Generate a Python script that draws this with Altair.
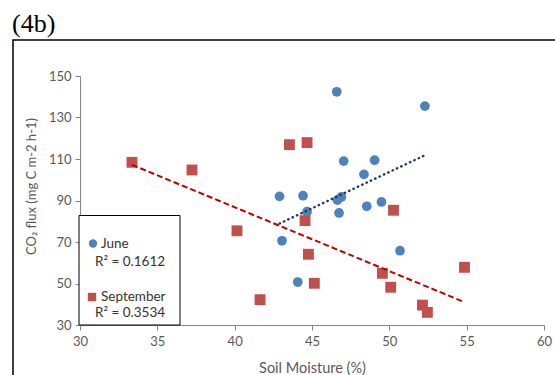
import altair as alt
import pandas as pd

# June (blue circles)
june_moisture = [46.6, 52.3, 47.05, 49.05, 48.36, 42.9, 44.42, 46.64, 46.9, 44.68, 46.75, 48.54, 49.49, 43.06, 50.69, 44.08]
june_flux = [142.4, 135.5, 109.0, 109.4, 102.6, 92.0, 92.3, 90.2, 91.7, 84.6, 84.0, 87.2, 89.3, 70.6, 65.8, 50.7]
# September (red squares)
sep_moisture = [33.36, 37.24, 40.15, 41.64, 43.54, 44.68, 44.55, 44.77, 45.15, 49.55, 50.09, 50.27, 52.14, 52.46, 54.86]
sep_flux = [108.4, 104.7, 75.4, 42.2, 116.9, 117.9, 80.3, 64.1, 50.1, 54.9, 48.2, 85.3, 39.6, 36.1, 57.8]

# linear trend lines (end points)
june_trend_x = [42.9, 52.3]
june_trend_y = [78.9, 111.8]
sep_trend_x = [33.36, 54.86]
sep_trend_y = [107.2, 41.0]

x_ticks = [30, 35, 40, 45, 50, 55, 60]
y_ticks = [30, 50, 70, 90, 110, 130, 150]

june = pd.DataFrame({"moisture": june_moisture, "flux": june_flux})
sep = pd.DataFrame({"moisture": sep_moisture, "flux": sep_flux})
june_tr = pd.DataFrame({"moisture": june_trend_x, "flux": june_trend_y})
sep_tr = pd.DataFrame({"moisture": sep_trend_x, "flux": sep_trend_y})

FONT = "Lato"
BLUE = "#4F81BD"
RED = "#C0504D"

xenc = alt.X("moisture:Q", scale=alt.Scale(domain=[30, 60], nice=False),
             axis=alt.Axis(values=x_ticks, title="Soil Moisture (%)", titleY=43,
                           titleBaseline="middle", labelPadding=5, tickSize=5,
                           labelFlush=False, titleFontSize=14.5))
yenc = alt.Y("flux:Q", scale=alt.Scale(domain=[30, 150], nice=False),
             axis=alt.Axis(values=y_ticks, title="CO₂ flux (mg C m-2 h-1)",
                           titleX=-49, titleY=110, titleAngle=-90, titleAlign="center",
                           titleBaseline="middle", labelPadding=4, tickSize=5,
                           labelFlush=False, titleFontSize=13))

one = pd.DataFrame({"a": [0]})

frame = alt.Chart(one).mark_rect(filled=False, stroke="black", strokeWidth=1.5).encode(
    x=alt.value(-67), x2=alt.value(700), y=alt.value(-36), y2=alt.value(500))

title = alt.Chart(one).mark_text(text="(4b)", font="Liberation Serif", fontSize=26,
                                 align="left", baseline="alphabetic", color="black").encode(
    x=alt.value(-68), y=alt.value(-44.5))

june_pts = alt.Chart(june).mark_point(shape="circle", filled=True, size=95, opacity=1,
                                      color=BLUE).encode(x=xenc, y=yenc)
sep_pts = alt.Chart(sep).mark_point(shape="square", filled=True, size=118, opacity=1,
                                    color=RED).encode(x=xenc, y=yenc)

june_line = alt.Chart(june_tr).mark_line(
    color="#1F3864", strokeWidth=2.4, strokeDash=[0.5, 4.3], strokeCap="round").encode(x=xenc, y=yenc)
sep_line = alt.Chart(sep_tr).mark_line(
    color="#C00000", strokeWidth=2, strokeDash=[6, 3]).encode(x=xenc, y=yenc)

legend_box = alt.Chart(one).mark_rect(fill="white", stroke="black", strokeWidth=1).encode(
    x=alt.value(-1), x2=alt.value(100), y=alt.value(139.5), y2=alt.value(249))

leg_june_sym = alt.Chart(one).mark_point(shape="circle", filled=True, size=70, opacity=1,
                                         color=BLUE).encode(x=alt.value(13), y=alt.value(167.5))
leg_sep_sym = alt.Chart(one).mark_point(shape="square", filled=True, size=70, opacity=1,
                                        color=RED).encode(x=alt.value(12), y=alt.value(221))

legend_text = pd.DataFrame({
    "t": ["June", "R² = 0.1612", "September", "R² = 0.3534"],
    "px": [21, 15, 21, 15],
    "py": [167.5, 185.5, 221, 237],
})
leg_text = alt.Chart(legend_text).mark_text(font=FONT, fontSize=13.5, align="left",
                                            baseline="middle", color="#333333").encode(
    text="t:N", x=alt.X("px:Q", scale=None), y=alt.Y("py:Q", scale=None))

chart = alt.layer(
    frame, title, june_pts, sep_pts, june_line, sep_line,
    legend_box, leg_june_sym, leg_sep_sym, leg_text
).resolve_scale(x="shared", y="shared").properties(
    width=464, height=249,
    autosize=alt.AutoSizeParams(type="none"),
    padding={"left": 80, "top": 76, "right": 11, "bottom": 50},
    background="white",
).configure_view(stroke=None).configure_axis(
    grid=False, domainColor="#868686", tickColor="#868686", labelColor="#595959",
    titleColor="#595959", labelFont=FONT, titleFont=FONT, labelFontSize=13,
    titleFontWeight="normal",
)

chart.save("out.html", embed_options={"renderer": "svg", "actions": False})
